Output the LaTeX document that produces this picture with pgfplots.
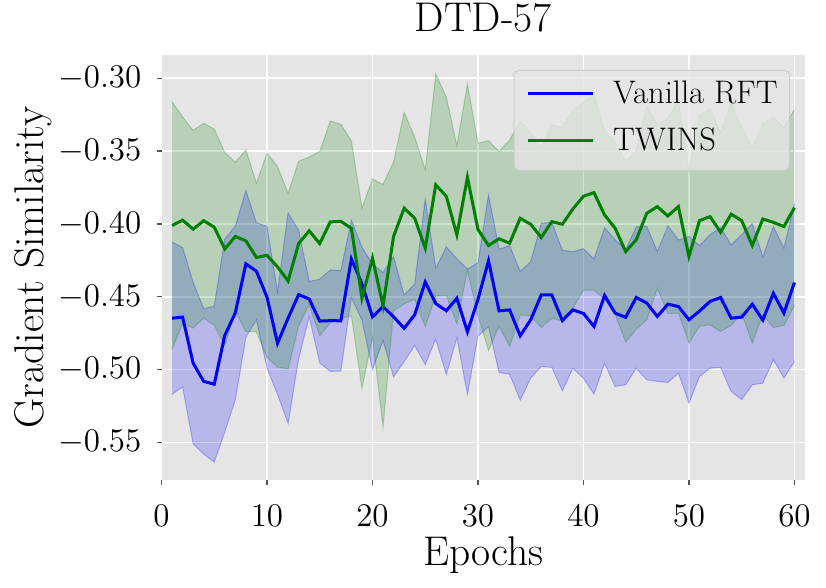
\RequirePackage{fix-cm}
\documentclass[border=0pt]{standalone}
\usepackage{pgfplots}
\pgfplotsset{compat=1.18}
\usepackage{pgfplotstable}
\usepgfplotslibrary{fillbetween}
\definecolor{bgc}{RGB}{229,229,229}
\definecolor{tickc}{RGB}{85,85,85}
\definecolor{mplgreen}{RGB}{0,128,0}
\definecolor{legedge}{RGB}{204,204,204}
\definecolor{mplblue}{RGB}{0,0,255}

\pgfplotstableread{
x m lo up
1 -0.4647 -0.5170 -0.4124
2 -0.4640 -0.5118 -0.4162
3 -0.4956 -0.5510 -0.4402
4 -0.5081 -0.5580 -0.4582
5 -0.5100 -0.5635 -0.4565
6 -0.4765 -0.5427 -0.4103
7 -0.4610 -0.5206 -0.4014
8 -0.4274 -0.4777 -0.3771
9 -0.4325 -0.4658 -0.3992
10 -0.4503 -0.4990 -0.4016
11 -0.4819 -0.5170 -0.4468
12 -0.4647 -0.5370 -0.3924
13 -0.4485 -0.4925 -0.4045
14 -0.4515 -0.4635 -0.4395
15 -0.4667 -0.4955 -0.4379
16 -0.4664 -0.5012 -0.4316
17 -0.4665 -0.5010 -0.4320
18 -0.4240 -0.4505 -0.3975
19 -0.4410 -0.4660 -0.4160
20 -0.4638 -0.5000 -0.4276
21 -0.4567 -0.4800 -0.4334
22 -0.4638 -0.5050 -0.4226
23 -0.4716 -0.4944 -0.4488
24 -0.4624 -0.4835 -0.4413
25 -0.4398 -0.4965 -0.3831
26 -0.4547 -0.4790 -0.4304
27 -0.4596 -0.5035 -0.4157
28 -0.4510 -0.4780 -0.4240
29 -0.4740 -0.5170 -0.4310
30 -0.4518 -0.4770 -0.4266
31 -0.4253 -0.4705 -0.3801
32 -0.4597 -0.5020 -0.4174
33 -0.4590 -0.5032 -0.4148
34 -0.4768 -0.5210 -0.4326
35 -0.4658 -0.5058 -0.4258
36 -0.4487 -0.4978 -0.3996
37 -0.4487 -0.4985 -0.3989
38 -0.4663 -0.5145 -0.4181
39 -0.4590 -0.4990 -0.4190
40 -0.4615 -0.5060 -0.4170
41 -0.4704 -0.5168 -0.4240
42 -0.4491 -0.4956 -0.4026
43 -0.4612 -0.5116 -0.4108
44 -0.4641 -0.5104 -0.4178
45 -0.4505 -0.4990 -0.4020
46 -0.4543 -0.5070 -0.4016
47 -0.4635 -0.5081 -0.4189
48 -0.4551 -0.5088 -0.4014
49 -0.4567 -0.5024 -0.4110
50 -0.4658 -0.5230 -0.4086
51 -0.4598 -0.5047 -0.4149
52 -0.4532 -0.4990 -0.4074
53 -0.4505 -0.4985 -0.4025
54 -0.4647 -0.5150 -0.4144
55 -0.4640 -0.5207 -0.4073
56 -0.4551 -0.5104 -0.3998
57 -0.4660 -0.5093 -0.4227
58 -0.4476 -0.4933 -0.4019
59 -0.4612 -0.5058 -0.4166
60 -0.4402 -0.4944 -0.3860
}\tblblue

\pgfplotstableread{
x m lo up
1 -0.4011 -0.4862 -0.3160
2 -0.3974 -0.4683 -0.3265
3 -0.4036 -0.4714 -0.3358
4 -0.3978 -0.4647 -0.3309
5 -0.4022 -0.4695 -0.3349
6 -0.4172 -0.4835 -0.3509
7 -0.4086 -0.4596 -0.3576
8 -0.4116 -0.4740 -0.3492
9 -0.4230 -0.4740 -0.3720
10 -0.4215 -0.4915 -0.3515
11 -0.4295 -0.4984 -0.3606
12 -0.4392 -0.4995 -0.3789
13 -0.4135 -0.4700 -0.3570
14 -0.4047 -0.4554 -0.3540
15 -0.4135 -0.4767 -0.3503
16 -0.3986 -0.4679 -0.3293
17 -0.3982 -0.4648 -0.3316
18 -0.4030 -0.4630 -0.3430
19 -0.4510 -0.5128 -0.3892
20 -0.4235 -0.4778 -0.3692
21 -0.4561 -0.5394 -0.3728
22 -0.4085 -0.4595 -0.3575
23 -0.3892 -0.4549 -0.3235
24 -0.3960 -0.4517 -0.3403
25 -0.4166 -0.4703 -0.3629
26 -0.3732 -0.4494 -0.2970
27 -0.3810 -0.4490 -0.3130
28 -0.4075 -0.4687 -0.3463
29 -0.3680 -0.4319 -0.3041
30 -0.4038 -0.4630 -0.3446
31 -0.4148 -0.4868 -0.3428
32 -0.4102 -0.4701 -0.3503
33 -0.4132 -0.4841 -0.3423
34 -0.3961 -0.4625 -0.3297
35 -0.4002 -0.4630 -0.3374
36 -0.4093 -0.4711 -0.3475
37 -0.3984 -0.4648 -0.3320
38 -0.4002 -0.4666 -0.3338
39 -0.3897 -0.4577 -0.3217
40 -0.3810 -0.4455 -0.3165
41 -0.3785 -0.4455 -0.3115
42 -0.3938 -0.4516 -0.3360
43 -0.4029 -0.4618 -0.3440
44 -0.4190 -0.4810 -0.3570
45 -0.4109 -0.4723 -0.3495
46 -0.3927 -0.4659 -0.3195
47 -0.3881 -0.4442 -0.3320
48 -0.3945 -0.4615 -0.3275
49 -0.3881 -0.4612 -0.3150
50 -0.4224 -0.4818 -0.3630
51 -0.3977 -0.4701 -0.3253
52 -0.3950 -0.4693 -0.3207
53 -0.4057 -0.4739 -0.3375
54 -0.3933 -0.4696 -0.3170
55 -0.3977 -0.4614 -0.3340
56 -0.4148 -0.4819 -0.3477
57 -0.3966 -0.4622 -0.3310
58 -0.3989 -0.4712 -0.3266
59 -0.4018 -0.4696 -0.3340
60 -0.3888 -0.4561 -0.3215
}\tblgreen

\begin{document}
\begin{tikzpicture}
\begin{axis}[
  name=ax, at={(0,0)}, anchor=south west,
  scale only axis, width=321.75pt, height=212.5pt,
  xmin=0, xmax=61, ymin=-0.5758, ymax=-0.2840,
  xtick={0,10,20,30,40,50,60},
  ytick={-0.55,-0.50,-0.45,-0.40,-0.35,-0.30},
  scaled y ticks=false,
  yticklabel style={/pgf/number format/fixed, /pgf/number format/fixed zerofill, /pgf/number format/precision=2},
  axis background/.style={fill=bgc},
  axis line style={draw=none},
  grid=major, major grid style={draw=white, line width=0.9pt},
  tick align=outside, major tick length=2.5pt,
  tick style={draw=tickc, line width=0.7pt},
  xtick pos=bottom, ytick pos=left,
  tick label style={font=\fontsize{16.5}{19}\selectfont, text=black},
  xticklabel style={anchor=base, yshift=-20.5pt, inner sep=0pt},
  yticklabel style={anchor=east, xshift=-7.4pt, inner sep=0pt},
  title={DTD-57},
  title style={at={(0.5,1.0275)}, anchor=base, font=\fontsize{20.75}{24}\selectfont, inner sep=0pt},
  xlabel={Epochs},
  xlabel style={at={(axis description cs:0.5,-0.2)}, anchor=base, font=\fontsize{20.75}{24}\selectfont, inner sep=0pt},
  ylabel={Gradient Similarity},
  ylabel style={at={(axis description cs:-0.18415,0.5)}, anchor=base, font=\fontsize{20.75}{24}\selectfont, inner sep=0pt},
  legend style={
    at={(0.9767,0.9647)}, anchor=north east,
    draw=legedge, fill=bgc, fill opacity=0.8, text opacity=1,
    rounded corners=2.5pt,
    font=\fontsize{16.3}{19}\selectfont,
    inner xsep=6pt, inner ysep=5.2pt,
    row sep=7.23pt,
    nodes={inner sep=0pt},
  },
  legend cell align=left,
  legend image code/.code={\draw[#1] (0pt,0pt) -- (32.5pt,0pt); \path (42pt,-9pt);},
]
\addplot[name path=bu, draw=mplblue, draw opacity=0.25, line width=0.5pt, forget plot] table[x=x,y=up]{\tblblue};
\addplot[name path=bl, draw=mplblue, draw opacity=0.25, line width=0.5pt, forget plot] table[x=x,y=lo]{\tblblue};
\addplot[fill=mplblue, fill opacity=0.2, draw=none, forget plot] fill between[of=bu and bl];
\addplot[name path=gu, draw=mplgreen, draw opacity=0.25, line width=0.5pt, forget plot] table[x=x,y=up]{\tblgreen};
\addplot[name path=gl, draw=mplgreen, draw opacity=0.25, line width=0.5pt, forget plot] table[x=x,y=lo]{\tblgreen};
\addplot[fill=mplgreen, fill opacity=0.2, draw=none, forget plot] fill between[of=gu and gl];
\addplot[mplblue, line width=1.5pt, no markers] table[x=x,y=m]{\tblblue};
\addlegendentry{Vanilla RFT}
\addplot[mplgreen, line width=1.5pt, no markers] table[x=x,y=m]{\tblgreen};
\addlegendentry{TWINS}
\end{axis}
\path ([shift={(-80.75pt,-53.5pt)}]ax.south west) rectangle ([shift={(10.5pt,27.5pt)}]ax.north east);
\end{tikzpicture}
\end{document}
